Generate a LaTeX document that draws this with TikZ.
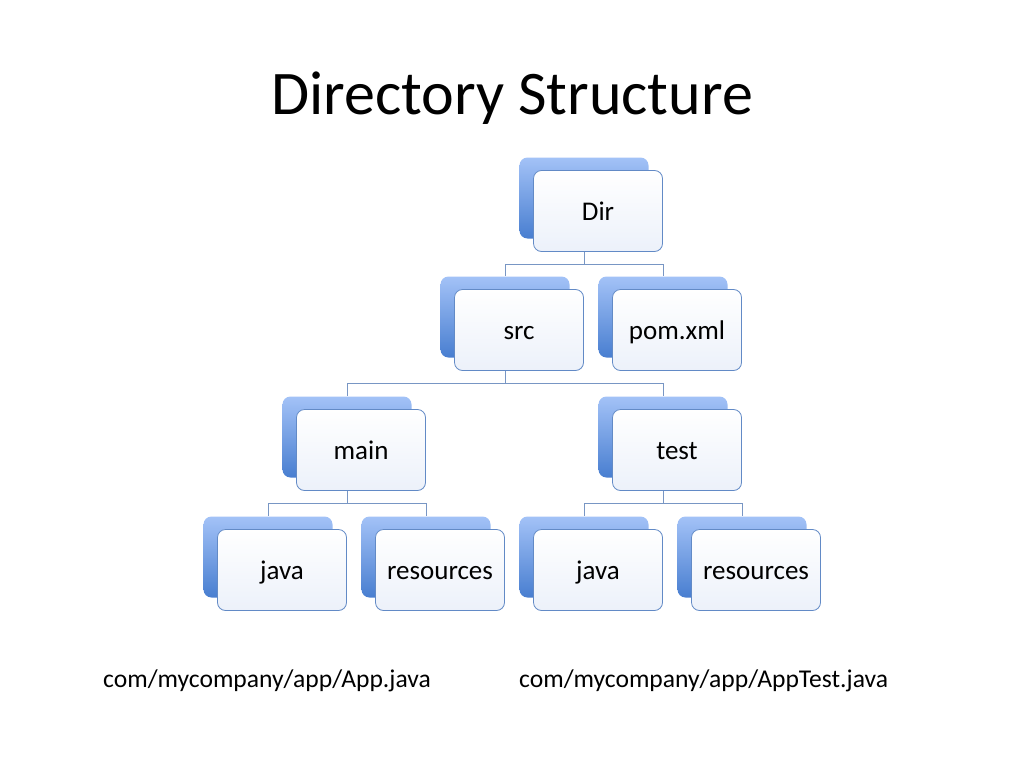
\documentclass[tikz,border=0pt]{standalone}
\usepackage{fontspec}
\setmainfont{Carlito}
\usetikzlibrary{positioning}
\usetikzlibrary{calc}
\usetikzlibrary{backgrounds}

\definecolor{backtop}{RGB}{163,194,247}
\definecolor{backbot}{RGB}{72,126,208}
\definecolor{frontbot}{RGB}{236,241,250}
\definecolor{frontline}{RGB}{98,138,198}
\definecolor{linkcol}{RGB}{120,150,196}

\tikzset{
  back/.style={rounded corners=8pt, minimum width=129pt, minimum height=81pt,
    inner sep=0pt, top color=backtop, bottom color=backbot},
  front/.style={rounded corners=8pt, draw=frontline, line width=0.8pt,
    minimum width=129pt, minimum height=81pt, inner sep=0pt,
    text height=21pt, text depth=2pt,
    top color=white, bottom color=frontbot,
    font=\fontsize{27}{32}\selectfont},
  link/.style={draw=linkcol, line width=0.9pt},
  heading/.style={inner sep=0pt, font=\fontsize{62}{70}\selectfont},
  note/.style={inner sep=0pt, anchor=west, font=\fontsize{25.6}{30}\selectfont}
}

\begin{document}
\begin{tikzpicture}[x=1pt,y=-1pt]
\useasboundingbox (0,0) rectangle (1024,768);

\node[heading] (title) at (512,98) {Directory Structure};

\node[back] (dir-b) at (584,198) {};
\node[front] (dir) at (598,211) {Dir};

\node[back] (src-b) at (505,317) {};
\node[front] (src) at (519,330) {src};
\node[back] (pom-b) at (663,317) {};
\node[front] (pom) at (677,330) {pom.xml};

\node[back] (main-b) at (347,437) {};
\node[front] (main) at (361,450) {main};
\node[back] (test-b) at (663,437) {};
\node[front] (test) at (677,450) {test};

\node[back] (mjava-b) at (268,557) {};
\node[front] (mjava) at (282,570) {java};
\node[back] (mres-b) at (426,557) {};
\node[front] (mres) at (440,570) {resources};
\node[back] (tjava-b) at (584,557) {};
\node[front] (tjava) at (598,570) {java};
\node[back] (tres-b) at (742,557) {};
\node[front] (tres) at (756,570) {resources};

\node[note] (app) at (103,681) {com/mycompany/app/App.java};
\node[note] (apptest) at (519,681) {com/mycompany/app/AppTest.java};

\begin{scope}[on background layer]
  \draw[link] (dir-b.south) |- ($(dir.south)!.5!(src-b.north)$) -| (src-b.north);
  \draw[link] (dir-b.south) |- ($(dir.south)!.5!(pom-b.north)$) -| (pom-b.north);
  \draw[link] (src-b.south) |- ($(src.south)!.5!(main-b.north)$) -| (main-b.north);
  \draw[link] (src-b.south) |- ($(src.south)!.5!(test-b.north)$) -| (test-b.north);
  \draw[link] (main-b.south) |- ($(main.south)!.5!(mjava-b.north)$) -| (mjava-b.north);
  \draw[link] (main-b.south) |- ($(main.south)!.5!(mres-b.north)$) -| (mres-b.north);
  \draw[link] (test-b.south) |- ($(test.south)!.5!(tjava-b.north)$) -| (tjava-b.north);
  \draw[link] (test-b.south) |- ($(test.south)!.5!(tres-b.north)$) -| (tres-b.north);
\end{scope}
\end{tikzpicture}
\end{document}
